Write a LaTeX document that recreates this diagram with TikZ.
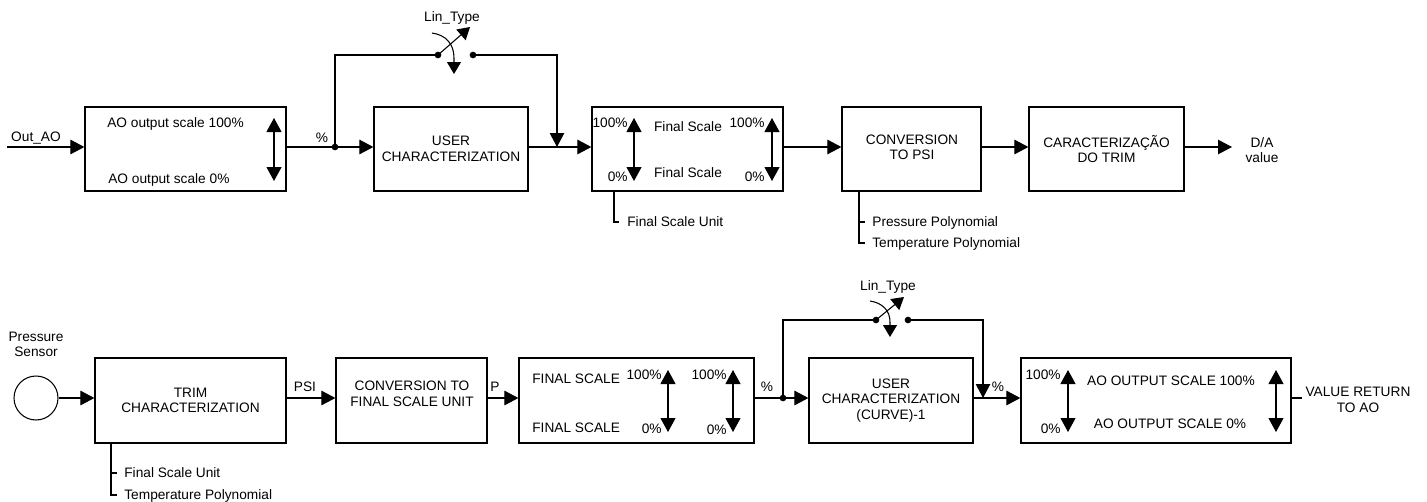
\documentclass[tikz,border=0pt]{standalone}
\usepackage{fontspec}
\setmainfont{Liberation Sans}
\usetikzlibrary{arrows.meta,fit}

\tikzset{
  every node/.style={font=\fontsize{7.8}{8.8}\selectfont},
  blk/.style={draw, line width=0.7pt, inner sep=0pt},
  lbl/.style={inner sep=0pt, text height=5.6pt, text depth=0pt},
  txt/.style={inner sep=0pt, align=center},
  wire/.style={line width=0.6pt},
  flow/.style={wire, -{Triangle[length=0.28cm,width=0.29cm]}},
  dbl/.style={wire, {Triangle[length=0.28cm,width=0.3cm]}-{Triangle[length=0.28cm,width=0.3cm]}},
  sarrow/.style={wire, -{Triangle[length=0.24cm,width=0.28cm]}},
  dot/.style={circle, fill, inner sep=0pt, minimum size=3.8pt},
}

\begin{document}
\begin{tikzpicture}[x=0.02cm, y=-0.02cm]
\useasboundingbox (0,0) rectangle (1427,501);

% ---------- output path (top row) ----------
\node[blk, fit={(85,107) (286,191)}]   (b1) {};
\node[blk, fit={(374,107) (528,191)}]  (b2) {};
\node[blk, fit={(592,107) (783,191)}]  (b3) {};
\node[blk, fit={(842,107) (981,191)}]  (b4) {};
\node[blk, fit={(1029,107) (1184,191)}] (b5) {};

\node[lbl, anchor=west] at (107,123) {AO output scale 100\%};
\node[lbl, anchor=west] at (108,179) {AO output scale 0\%};
\draw[dbl] (274,118) -- (274,181);

\node[txt] at (b2) {USER\\CHARACTERIZATION};

\draw[dbl] (634,118) -- (634,181);
\draw[dbl] (772,118) -- (772,181);
\node[lbl, anchor=east] at (628,123) {100\%};
\node[lbl, anchor=east] at (628,177) {0\%};
\node[lbl, anchor=east] at (765,123) {100\%};
\node[lbl, anchor=east] at (765,177) {0\%};
\node[lbl] at (688,127) {Final Scale};
\node[lbl] at (688,173) {Final Scale};

\node[txt] at (912,147.5) {CONVERSION\\TO PSI};
\node[txt] at (b5) {CARACTERIZAÇÃO\\DO TRIM};

% connectors
\coordinate (in1) at (7,147);
\node[lbl] at (36,137) {Out\_AO};
\draw[flow] (in1) -- (in1 -| b1.west);

\node[dot] (j1) at (335,147) {};
\node[lbl] at (322,138) {\%};
\draw[wire] (j1 -| b1.east) -- (j1.center);
\draw[flow] (j1.center) -- (j1 -| b2.west);

\node[dot] (s1) at (438,55) {};
\node[dot] (s2) at (473,55) {};
\coordinate (m1) at (557,147);
\draw[wire] (j1.center) |- (s1.center);
\draw[flow] (s2.center) -| (m1);
\draw[flow] (m1 -| b2.east) -- (m1 -| b3.west);
\draw[flow] (m1 -| b3.east) -- (m1 -| b4.west);
\draw[flow] (m1 -| b4.east) -- (m1 -| b5.west);
\coordinate (out1) at (1232,147);
\draw[flow] (m1 -| b5.east) -- (out1);
\node[txt] at (1262,150) {D/A\\value};

% selector switch
\node[lbl] at (452,17) {Lin\_Type};
\coordinate (sw1) at (470,27);
\draw[sarrow] (s1.center) -- (sw1);
\coordinate (cv1) at (432,33);
\coordinate (cv2) at (454,74);
\draw[sarrow] (cv1) .. controls (446,35) and (454,44) .. (454,58) -- (cv2);

% parameter notes
\coordinate (a1) at (614,222);
\draw[wire] (a1 |- b3.south) -- (a1) -- ++(5,0);
\node[lbl, anchor=west] at (627,222) {Final Scale Unit};

\coordinate (a2) at (859,222);
\coordinate (a3) at (859,243);
\draw[wire] (a2 |- b4.south) -- (a3) -- ++(6,0);
\draw[wire] (a2) -- ++(6,0);
\node[lbl, anchor=west] at (872,222) {Pressure Polynomial};
\node[lbl, anchor=west] at (872,243) {Temperature Polynomial};

% ---------- readback path (bottom row) ----------
\node[blk, fit={(95,358) (286,443)}]    (c1) {};
\node[blk, fit={(336,358) (487,443)}]   (c2) {};
\node[blk, fit={(519,358) (754,443)}]   (c3) {};
\node[blk, fit={(809,358) (973,443)}]   (c4) {};
\node[blk, fit={(1021,358) (1291,443)}] (c5) {};

\node[txt] at (c1) {TRIM\\CHARACTERIZATION};
\node[txt] at (412,394) {CONVERSION TO\\FINAL SCALE UNIT};

\node[lbl, anchor=west] at (532,379) {FINAL SCALE};
\node[lbl, anchor=west] at (532,428) {FINAL SCALE};
\draw[dbl] (668,370) -- (668,432);
\draw[dbl] (733,370) -- (733,432);
\node[lbl, anchor=east] at (662,375) {100\%};
\node[lbl, anchor=east] at (662,429) {0\%};
\node[lbl, anchor=east] at (727,375) {100\%};
\node[lbl, anchor=east] at (727,430) {0\%};

\node[txt] at (c4) {USER\\CHARACTERIZATION\\(CURVE)-1};

\draw[dbl] (1068,370) -- (1068,432);
\draw[dbl] (1276,370) -- (1276,432);
\node[lbl, anchor=east] at (1061,375) {100\%};
\node[lbl, anchor=east] at (1061,429) {0\%};
\node[lbl] at (1171,381) {AO OUTPUT SCALE 100\%};
\node[lbl] at (1170,424) {AO OUTPUT SCALE 0\%};

% sensor
\node[txt] at (36,344.5) {Pressure\\Sensor};
\node[circle, draw, wire, minimum size=0.88cm, inner sep=0pt] (sen) at (36,398) {};
\draw[flow] (sen.east) -- (sen.east -| c1.west);

% connectors
\draw[flow] (sen -| c1.east) -- (sen -| c2.west);
\node[lbl] at (305,387) {PSI};
\draw[flow] (sen -| c2.east) -- (sen -| c3.west);
\node[lbl] at (495,387) {P};

\node[dot] (j2) at (783,398) {};
\node[lbl] at (767,387) {\%};
\draw[wire] (sen -| c3.east) -- (j2.center);
\draw[flow] (j2.center) -- (j2 -| c4.west);

\node[dot] (t1) at (876,320) {};
\node[dot] (t2) at (908,320) {};
\coordinate (m2) at (983,398);
\draw[wire] (j2.center) |- (t1.center);
\draw[flow] (t2.center) -| (m2);
\draw[flow] (m2 -| c4.east) -- (m2 -| c5.west);
\node[lbl] at (998,387) {\%};
\coordinate (out2) at (1302,398);
\draw[wire] (m2 -| c5.east) -- (out2);
\node[txt] at (1358,400) {VALUE RETURN\\TO AO};

% selector switch
\node[lbl] at (888,286) {Lin\_Type};
\coordinate (sw2) at (904,297);
\draw[sarrow] (t1.center) -- (sw2);
\coordinate (cv3) at (870,301);
\coordinate (cv4) at (890,337);
\draw[sarrow] (cv3) .. controls (883,303) and (890,311) .. (890,322) -- (cv4);

% parameter notes
\coordinate (a4) at (111,473);
\coordinate (a5) at (111,495);
\draw[wire] (a4 |- c1.south) -- (a5) -- ++(6,0);
\draw[wire] (a4) -- ++(6,0);
\node[lbl, anchor=west] at (124,473) {Final Scale Unit};
\node[lbl, anchor=west] at (124,495) {Temperature Polynomial};
\end{tikzpicture}
\end{document}
